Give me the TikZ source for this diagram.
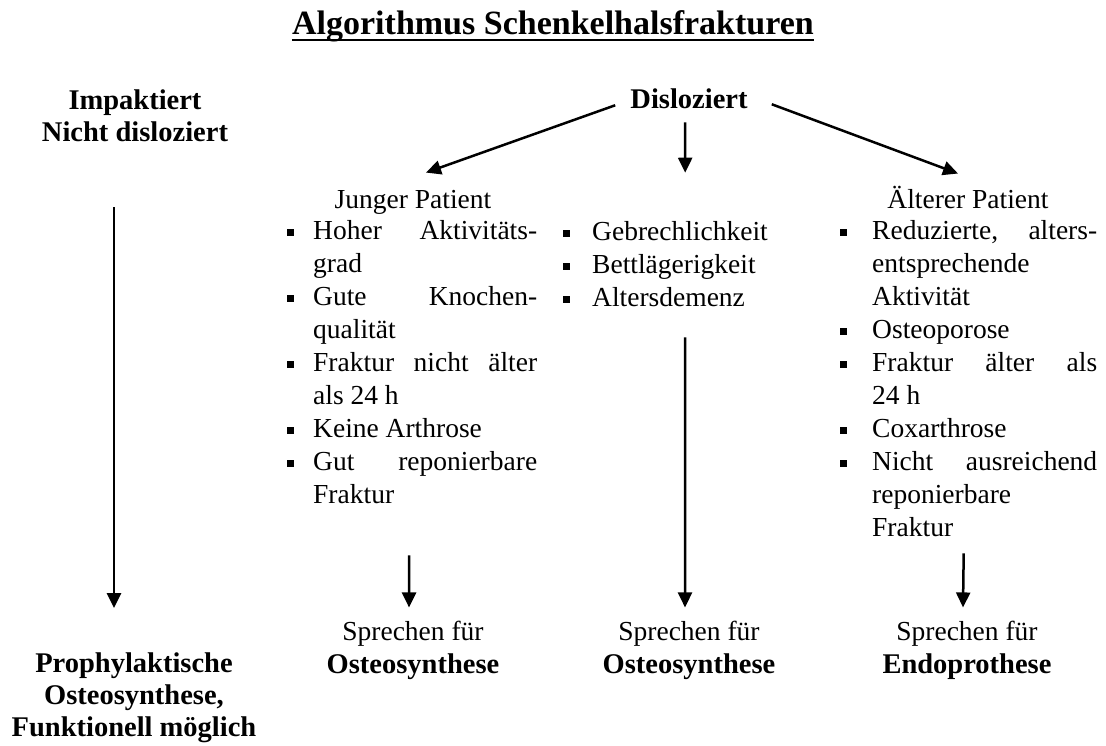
\documentclass[tikz,border=0pt]{standalone}
\usepackage{fontspec}
\setmainfont{Liberation Serif}
\usetikzlibrary{arrows.meta}

\newcommand{\listfont}{\fontsize{27.5pt}{33pt}\selectfont}
\newcommand{\fettschrift}{\fontsize{28.5pt}{32pt}\selectfont\bfseries}
\newlength{\einzug}
\newcommand{\kasten}{\rule[3pt]{7pt}{7pt}}
\newcommand{\punkt}[1]{\par\hangindent=\einzug\hangafter=1\noindent\makebox[\einzug][l]{\kasten}#1}

\begin{document}
\begin{tikzpicture}[
    x=1pt, y=-1pt,
    pfeil/.style=
        {-{Triangle[length=15pt,width=14pt]}, line width=2.5pt},
    fett/.style={font=\fettschrift, inner sep=0pt},
    normal/.style={font=\listfont, inner sep=0pt}]
    \path[use as bounding box, fill=white] (0,0) rectangle (1106,745);
    \node [anchor=base, inner sep=0pt, font=\fontsize{34pt}{40pt}\selectfont\bfseries]
        (titel) at (553,34) {Algorithmus Schenkelhalsfrakturen};
    \draw [line width=2.5pt] ([yshift=-6pt]titel.base west) -- ([yshift=-6pt]titel.base east);

    \node [fett, anchor=base] (impakt) at (135,109)
        {\parbox[t]{240pt}{\centering Impaktiert\\Nicht disloziert}};
    \node [fett, anchor=base] (disloz) at (689,108) {Disloziert};

    \node [normal, anchor=base] (jung) at (413,208) {Junger Patient};
    \node [normal, anchor=base] (alt) at (968,208) {Älterer Patient};

    \node [normal, anchor=base west] (jungliste) at (287,239)
        {\parbox[t]{250pt}{\setlength{\einzug}{26pt}%
            \punkt{Hoher\hfill Aktivitäts-\\grad}%
            \punkt{Gute\hfill Knochen-\\qualität}%
            \punkt{Fraktur\hfill nicht\hfill älter\\als 24 h}%
            \punkt{Keine Arthrose}%
            \punkt{Gut\hfill reponierbare\\Fraktur}}};
    \node [normal, anchor=base west] (mitteliste) at (563,240)
        {\parbox[t]{244pt}{\setlength{\einzug}{29pt}%
            \punkt{Gebrechlichkeit}%
            \punkt{Bettlägerigkeit}%
            \punkt{Altersdemenz}}};
    \node [normal, anchor=base west] (altliste) at (840,239)
        {\parbox[t]{257pt}{\setlength{\einzug}{32pt}%
            \punkt{Reduzierte,\hfill alters-\\entsprechende\\Aktivität}%
            \punkt{Osteoporose}%
            \punkt{Fraktur\hfill älter\hfill als\\24 h}%
            \punkt{Coxarthrose}%
            \punkt{Nicht\hfill ausreichend\\reponierbare\\Fraktur}}};

    \node [fett, anchor=base] (proph) at (134,672)
        {\parbox[t]{260pt}{\centering Prophylaktische\\Osteosynthese,\\Funktionell möglich}};
    \node [normal, anchor=base] (ergzwei) at (413,640)
        {\parbox[t]{200pt}{\centering Sprechen für\\{\fettschrift Osteosynthese}}};
    \node [normal, anchor=base] (ergdrei) at (689,640)
        {\parbox[t]{200pt}{\centering Sprechen für\\{\fettschrift Osteosynthese}}};
    \node [normal, anchor=base] (ergvier) at (967,640)
        {\parbox[t]{200pt}{\centering Sprechen für\\{\fettschrift Endoprothese}}};

    \draw [pfeil] ([xshift=-15pt,yshift=-7pt]disloz.west) -- ([xshift=13pt,yshift=17pt]jung.north);
    \draw [pfeil] ([xshift=-4pt,yshift=-14pt]disloz.south) -- ([yshift=48pt]mitteliste.north);
    \draw [pfeil] ([xshift=24pt,yshift=-6pt]disloz.east) -- ([xshift=-10pt,yshift=12pt]alt.north);
    \draw [pfeil] ([xshift=-21pt,yshift=-66pt]impakt.south) -- ([xshift=-20pt,yshift=44pt]proph.north);
    \draw [pfeil] ([xshift=-3pt,yshift=-52pt]jungliste.south) -- ([xshift=-4pt,yshift=13pt]ergzwei.north);
    \draw [pfeil] ([yshift=-31pt]mitteliste.south) -- ([xshift=-4pt,yshift=13pt]ergdrei.north);
    \draw [pfeil] ([xshift=-5pt,yshift=-17pt]altliste.south) -- ([xshift=-4pt,yshift=13pt]ergvier.north);
\end{tikzpicture}
\end{document}
